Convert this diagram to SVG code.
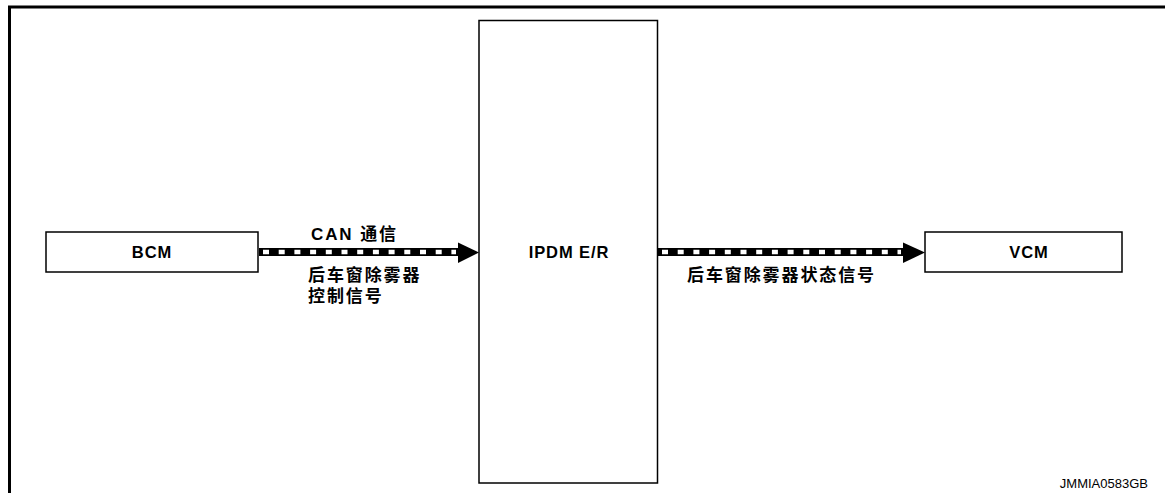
<svg xmlns="http://www.w3.org/2000/svg" width="1165" height="493" viewBox="0 0 1165 493">
<style>
.box{fill:#fff;stroke:#000;stroke-width:1.5}
.lbl{font-family:"Liberation Sans","Noto Sans CJK SC",sans-serif;font-size:16.5px;font-weight:bold;fill:#000;letter-spacing:0.9px}
.cjk{font-family:"Liberation Sans","Noto Sans CJK SC",sans-serif;font-size:17px;font-weight:bold;fill:#000;letter-spacing:1.9px}
.band{stroke:#000;stroke-width:8;fill:none}
.dash{stroke:#fff;stroke-width:4.5;fill:none;stroke-dasharray:6 9.7}
</style>
<rect width="1165" height="493" fill="#fff"/>
<path d="M9.5 500 V7 H1170" fill="none" stroke="#000" stroke-width="3"/>
<g id="bcm">
<rect class="box" x="46" y="232" width="212" height="40"/>
<text class="lbl" x="152" y="258" text-anchor="middle">BCM</text>
</g>
<g id="ipdm">
<rect class="box" x="479" y="20.5" width="178.5" height="462.5"/>
<text class="lbl" x="569" y="258" text-anchor="middle">IPDM E/R</text>
</g>
<g id="vcm">
<rect class="box" x="925" y="232" width="197" height="40"/>
<text class="lbl" x="1029" y="258" text-anchor="middle">VCM</text>
</g>
<g id="connectors">
<line class="band" x1="259" y1="252" x2="459" y2="252"/>
<line class="dash" x1="263" y1="252" x2="456" y2="252"/>
<polygon points="458,242.5 479,252.5 458,263" fill="#000"/>
<line class="band" x1="658" y1="252" x2="904" y2="252"/>
<line class="dash" x1="662" y1="252" x2="901" y2="252"/>
<polygon points="903,242.5 925,252.5 903,263" fill="#000"/>
</g>
<g id="labels">
<text class="cjk" x="311" y="240">CAN 通信</text>
<text class="cjk" x="308" y="281">后车窗除雾器</text>
<text class="cjk" x="308" y="302">控制信号</text>
<text class="cjk" x="687" y="281">后车窗除雾器状态信号</text>
<text x="1148" y="488" text-anchor="end" font-family="Liberation Sans, sans-serif" font-size="13" fill="#000">JMMIA0583GB</text>
</g>
</svg>
